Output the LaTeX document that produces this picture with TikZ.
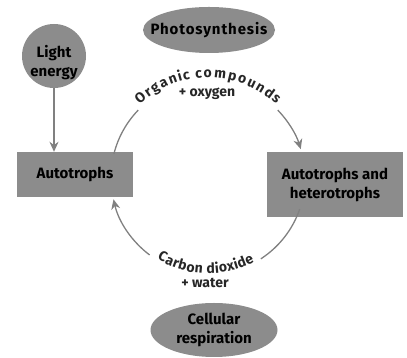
\documentclass[tikz,border=0pt]{standalone}
\usepackage{fontspec}
\setmainfont{Fira Sans}
\usetikzlibrary{decorations.text,arrows.meta,shapes.geometric}
\definecolor{fillg}{gray}{0.55}
\definecolor{lineg}{gray}{0.5}
\newcommand{\lblfont}{\bfseries\fontsize{15}{19}\selectfont}
\newcommand{\arcfont}{\bfseries\fontsize{14}{16}\selectfont}
\tikzset{
  shapefill/.style={fill=fillg, draw=none, inner sep=0pt},
  txt/.style={text=black, font=\lblfont, align=center, inner sep=0pt},
  boxnode/.style={shapefill, txt, rectangle},
  ovalnode/.style={shapefill, ellipse},
  roundnode/.style={shapefill, circle},
  flow/.style={draw=lineg, line width=1.3pt, -{Stealth[length=10pt,width=9pt]}},
  plain/.style={draw=lineg, line width=1.3pt},
  lbl/.style={font=\arcfont, text=black!85, inner sep=0pt},
  arctext/.style={decorate, decoration={text effects along path, text={#1},
    text align=center, text effects/.cd, text along path, fit text to path,
    every character/.style={font=\arcfont, text=black!85}}}
}
\begin{document}
\begin{tikzpicture}[x=1pt,y=1pt]
\useasboundingbox (0,0) rectangle (407,358);
\node[roundnode, minimum size=64pt] (light) at (54,302) {};
\node[txt] (lightT) at (54,295) {Light\\energy};
\node[ovalnode, minimum width=132pt, minimum height=46pt] (photo) at (209,328) {};
\node[txt] (photoT) at (photo.center) {\addfontfeature{LetterSpace=6}Photosynthesis};
\node[boxnode, minimum width=116pt, minimum height=45pt] (auto) at (75,183.5) {Autotrophs};
\node[boxnode, minimum width=136pt, minimum height=65pt] (het) at (335,173.5) {Autotrophs and\\heterotrophs};
\node[ovalnode, minimum width=127pt, minimum height=54pt] (resp) at (214,28) {};
\node[txt] (respT) at (resp.center) {Cellular\\respiration};
\coordinate (c) at (208,180.5);
\draw[flow] (light.south) -- (auto.north -| light.south);
% top arc
\path[plain] (c) ++(166:97) arc[start angle=166, end angle=136, radius=97];
\path[flow] (c) ++(44:97) arc[start angle=44, end angle=17, radius=97];
\path[arctext={Organic compounds}]
  (c) ++(133:100) arc[start angle=133, end angle=47, radius=100];
\node[lbl] (oxy) at (207,264) {+ oxygen};
% bottom arc
\path[plain] (c) ++(-19:97) arc[start angle=-19, end angle=-57, radius=97];
\path[flow] (c) ++(-127:97) arc[start angle=-127, end angle=-167, radius=97];
\path[arctext={Carbon dioxide}]
  (c) ++(-122:96) arc[start angle=-122, end angle=-61, radius=96];
\node[lbl] (wat) at (205,75) {+ water};
\end{tikzpicture}
\end{document}
